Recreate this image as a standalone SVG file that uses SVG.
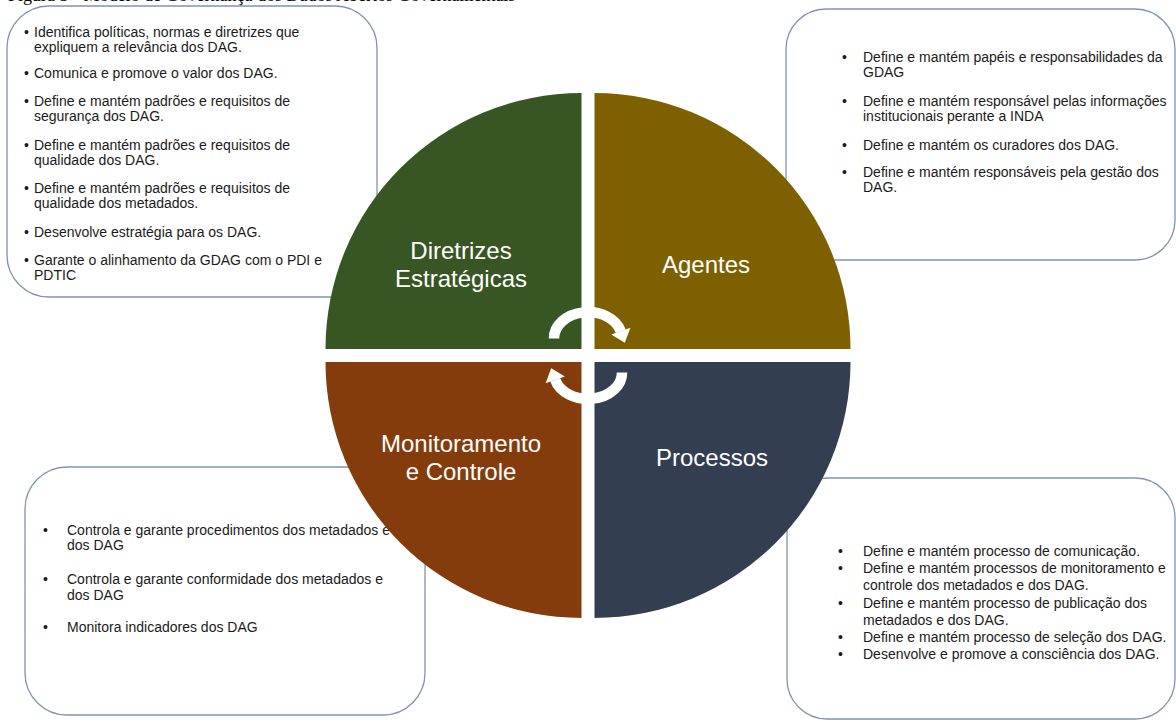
<svg xmlns="http://www.w3.org/2000/svg" width="1176" height="724" viewBox="0 0 1176 724">
  <style>
    .box { fill: #ffffff; stroke: #8094ae; stroke-width: 1.3; }
    .txt { font-family: "Liberation Sans", Arial, sans-serif; font-size: 14px; fill: #1a1a1a; }
    .lbl { font-family: "Liberation Sans", Arial, sans-serif; font-size: 24px; fill: #ffffff; text-anchor: middle; }
    .title { font-family: "Liberation Serif", "Times New Roman", serif; font-size: 18px; fill: #000000; }
    .cycle { fill: none; stroke: #ffffff; stroke-width: 10.5; }
    .head { fill: #ffffff; }
  </style>

  <!-- caption, clipped at the top edge -->
  <text class="title" x="8" y="0.5">Figura 3 - Modelo de Governança dos Dados Abertos Governamentais</text>

  <!-- description boxes -->
  <g id="box-diretrizes">
    <rect class="box" x="7" y="6" width="370" height="291" rx="42" ry="42"/>
    <g class="txt">
      <text x="24" y="37">•</text><text x="34" y="37">Identifica políticas, normas e diretrizes que</text>
      <text x="34" y="52">expliquem a relevância dos DAG.</text>
      <text x="24" y="78">•</text><text x="34" y="78">Comunica e promove o valor dos DAG.</text>
      <text x="24" y="106">•</text><text x="34" y="106">Define e mantém padrões e requisitos de</text>
      <text x="34" y="121">segurança dos DAG.</text>
      <text x="24" y="150">•</text><text x="34" y="150">Define e mantém padrões e requisitos de</text>
      <text x="34" y="165">qualidade dos DAG.</text>
      <text x="24" y="193">•</text><text x="34" y="193">Define e mantém padrões e requisitos de</text>
      <text x="34" y="208">qualidade dos metadados.</text>
      <text x="24" y="237">•</text><text x="34" y="237">Desenvolve estratégia para os DAG.</text>
      <text x="24" y="265">•</text><text x="34" y="265">Garante o alinhamento da GDAG com o PDI e</text>
      <text x="34" y="280">PDTIC</text>
    </g>
  </g>

  <g id="box-agentes">
    <rect class="box" x="786" y="9" width="389" height="251" rx="40" ry="40"/>
    <g class="txt">
      <text x="842" y="62">•</text><text x="863" y="62">Define e mantém papéis e responsabilidades da</text>
      <text x="863" y="77">GDAG</text>
      <text x="842" y="106">•</text><text x="863" y="106">Define e mantém responsável pelas informações</text>
      <text x="863" y="121">institucionais perante a INDA</text>
      <text x="842" y="150">•</text><text x="863" y="150">Define e mantém os curadores dos DAG.</text>
      <text x="842" y="177">•</text><text x="863" y="177">Define e mantém responsáveis pela gestão dos</text>
      <text x="863" y="192">DAG.</text>
    </g>
  </g>

  <g id="box-monitoramento">
    <rect class="box" x="25" y="467" width="400" height="248" rx="42" ry="42"/>
    <g class="txt">
      <text x="43" y="535">•</text><text x="67" y="535">Controla e garante procedimentos dos metadados e</text>
      <text x="67" y="550">dos DAG</text>
      <text x="43" y="584">•</text><text x="67" y="584">Controla e garante conformidade dos metadados e</text>
      <text x="67" y="600">dos DAG</text>
      <text x="43" y="632">•</text><text x="67" y="632">Monitora indicadores dos DAG</text>
    </g>
  </g>

  <g id="box-processos">
    <rect class="box" x="787" y="478" width="388" height="241" rx="40" ry="40"/>
    <g class="txt">
      <text x="838" y="556">•</text><text x="863" y="556">Define e mantém processo de comunicação.</text>
      <text x="838" y="573">•</text><text x="863" y="573">Define e mantém processos de monitoramento e</text>
      <text x="863" y="590">controle dos metadados e dos DAG.</text>
      <text x="838" y="608">•</text><text x="863" y="608">Define e mantém processo de publicação dos</text>
      <text x="863" y="625">metadados e dos DAG.</text>
      <text x="838" y="642">•</text><text x="863" y="642">Define e mantém processo de seleção dos DAG.</text>
      <text x="838" y="659">•</text><text x="863" y="659">Desenvolve e promove a consciência dos DAG.</text>
    </g>
  </g>

  <!-- four quadrants of the central circle -->
  <g id="diretrizes">
    <path d="M 581.5 349 L 325.5 349 A 256 256 0 0 1 581.5 93 Z" fill="#375623"/>
    <text class="lbl" x="461" y="259">Diretrizes</text>
    <text class="lbl" x="461" y="287">Estratégicas</text>
  </g>
  <g id="agentes">
    <path d="M 594.5 349 L 594.5 93 A 256 256 0 0 1 850.5 349 Z" fill="#7f6000"/>
    <text class="lbl" x="706" y="273">Agentes</text>
  </g>
  <g id="monitoramento">
    <path d="M 581.5 362 L 581.5 618 A 256 256 0 0 1 325.5 362 Z" fill="#843c0c"/>
    <text class="lbl" x="461" y="452">Monitoramento</text>
    <text class="lbl" x="461" y="480">e Controle</text>
  </g>
  <g id="processos">
    <path d="M 594.5 362 L 850.5 362 A 256 256 0 0 1 594.5 618 Z" fill="#333f50"/>
    <text class="lbl" x="712" y="466">Processos</text>
  </g>

  <!-- cycle arrows in the centre -->
  <g id="connectors">
    <g id="cycle-top">
      <path class="cycle" d="M 554 338.5 A 34 26 0 0 1 620.8 331.3"/>
      <polygon class="head" points="611.2,334.4 630.4,327.8 624.8,342.8"/>
    </g>
    <g id="cycle-bottom" transform="rotate(180 588 355.5)">
      <path class="cycle" d="M 554 338.5 A 34 26 0 0 1 620.8 331.3"/>
      <polygon class="head" points="611.2,334.4 630.4,327.8 624.8,342.8"/>
    </g>
  </g>
</svg>
